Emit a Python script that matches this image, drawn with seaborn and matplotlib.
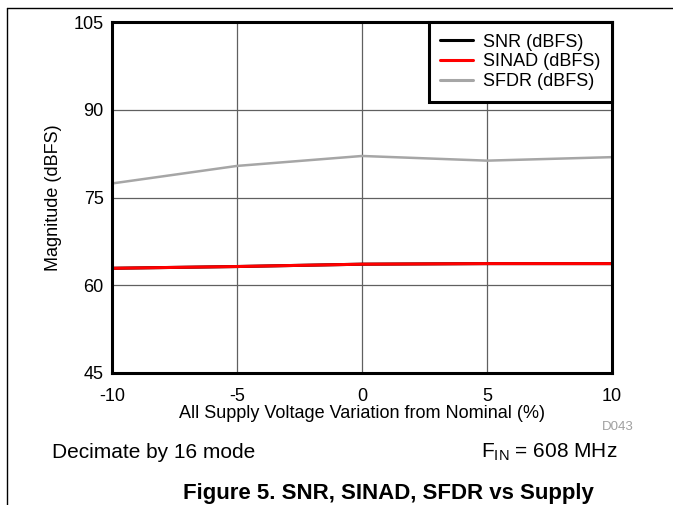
import numpy as np
import pandas as pd
import matplotlib
matplotlib.use("Agg")
import matplotlib.pyplot as plt
import seaborn as sns
from matplotlib.lines import Line2D

# data
supply_pct = [-10, -5, 0, 5, 10]
snr = [62.9, 63.2, 63.6, 63.7, 63.7]
sinad = [62.9, 63.2, 63.6, 63.7, 63.7]
sfdr = [77.4, 80.4, 82.1, 81.3, 81.9]
series_names = ["SNR (dBFS)", "SINAD (dBFS)", "SFDR (dBFS)"]
series_colors = ["#000000", "#FF0000", "#A6A6A6"]

df = pd.DataFrame({
    "x": supply_pct * 3,
    "y": snr + sinad + sfdr,
    "series": [series_names[0]] * 5 + [series_names[1]] * 5 + [series_names[2]] * 5,
})

sns.set_style("white")
plt.rcParams["font.family"] = ["Liberation Sans", "DejaVu Sans"]
plt.rcParams["text.color"] = "black"
plt.rcParams["axes.labelcolor"] = "black"
plt.rcParams["xtick.color"] = "black"
plt.rcParams["ytick.color"] = "black"

fig = plt.figure(figsize=(6.73, 5.05), dpi=100)
ax = fig.add_axes([0.1664, 0.2614, 0.7430, 0.6950])

palette = dict(zip(series_names, series_colors))
sns.lineplot(data=df, x="x", y="y", hue="series", palette=palette,
             hue_order=series_names, ax=ax, legend=False, linewidth=2.2, zorder=3)
# SINAD sits on top of SNR like the reference
ax.lines[1].set_zorder(4)
ax.lines[2].set_linewidth(1.8)

ax.set_xlim(-10, 10)
ax.set_ylim(45, 105)
ax.set_xticks([-10, -5, 0, 5, 10])
ax.set_yticks([45, 60, 75, 90, 105])
ax.set_xticklabels(["-10", "-5", "0", "5", "10"])
ax.grid(True, color="#606060", linewidth=0.9, zorder=1)
ax.tick_params(axis="both", length=0, labelsize=13, colors="black")
ax.tick_params(axis="x", pad=11)
ax.tick_params(axis="y", pad=6)
for s in ax.spines.values():
    s.set_linewidth(2.2)
    s.set_color("black")
    s.set_zorder(5)

ax.set_xlabel("All Supply Voltage Variation from Nominal (%)", fontsize=13, labelpad=0)
ax.set_ylabel("Magnitude (dBFS)", fontsize=13, labelpad=8)

handles = [Line2D([0], [0], color=c, lw=2.2) for c in series_colors]
leg = ax.legend(handles, series_names, loc="upper right", fontsize=13,
                frameon=True, fancybox=False, framealpha=1, borderaxespad=0,
                handlelength=1.8, handletextpad=0.55, labelspacing=0.15,
                borderpad=0.65)
leg.get_frame().set_edgecolor("black")
leg.get_frame().set_linewidth(2.2)
leg.set_zorder(6)

fig.text(618 / 673, 1 - 427 / 505, "D043", fontsize=9.5, color="#A0A0A0",
         ha="center", va="center")
fig.text(52 / 673, 1 - 452 / 505, "Decimate by 16 mode", fontsize=15, ha="left", va="center")
fig.text(617 / 673, 1 - 452 / 505, r"F$_{\mathregular{IN}}$ = 608 MHz", fontsize=15,
         ha="right", va="center")
fig.text(388 / 673, 1 - 494 / 505, "Figure 5. SNR, SINAD, SFDR vs Supply", fontsize=16,
         fontweight="bold", ha="center", va="center")

# page frame lines from the datasheet crop
fig.add_artist(Line2D([7 / 673, 1], [1 - 8 / 505, 1 - 8 / 505], color="black", lw=1.0))
fig.add_artist(Line2D([7 / 673, 7 / 673], [0, 1 - 8 / 505], color="black", lw=1.0))

fig.savefig("out.png", dpi=100)
